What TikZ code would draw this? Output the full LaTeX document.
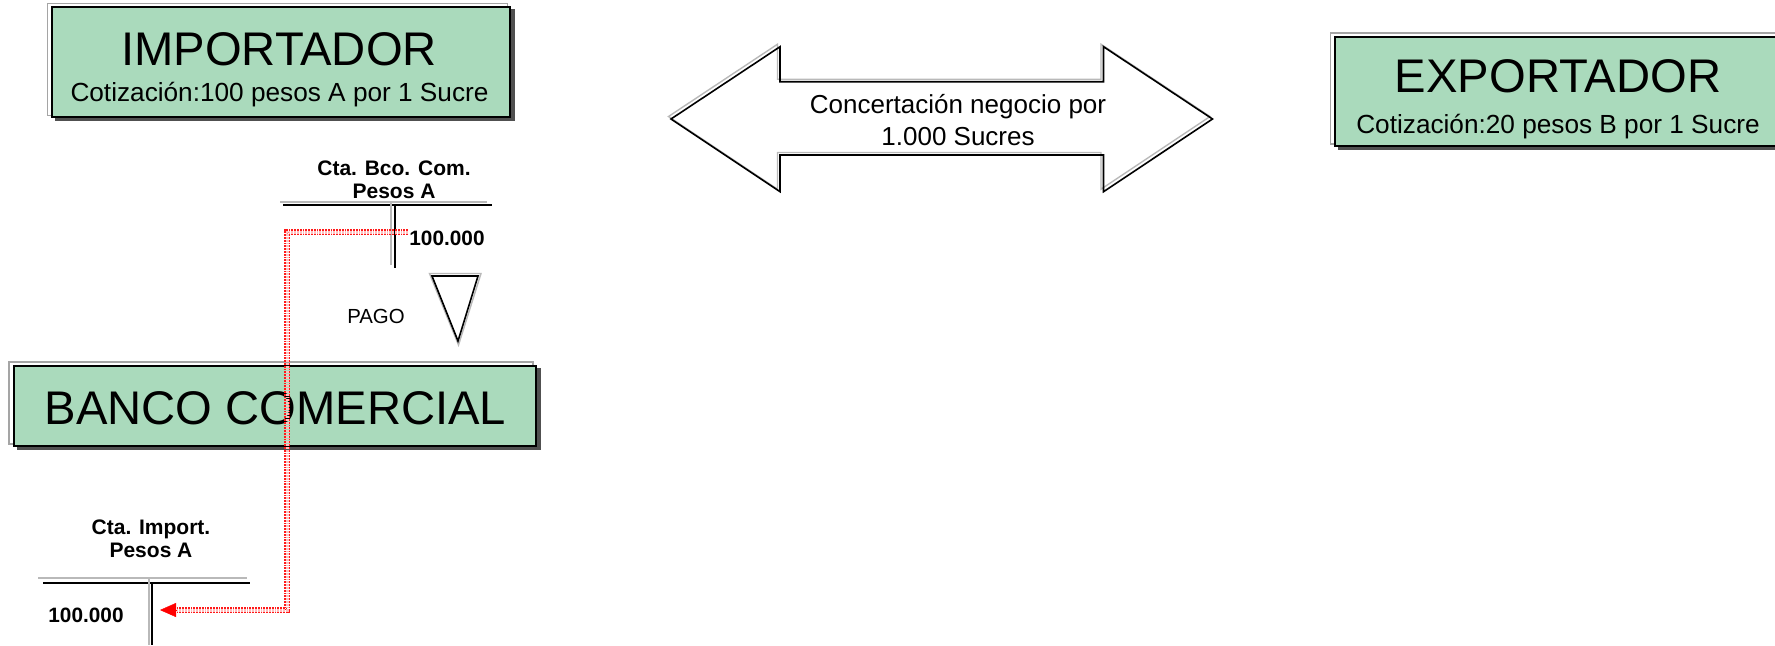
\documentclass[tikz,border=0pt]{standalone}
\usepackage{fontspec}
\setmainfont{Liberation Sans}
\usetikzlibrary{arrows.meta,backgrounds}
\definecolor{boxgreen}{RGB}{170,218,188}
\definecolor{shadowgray}{RGB}{80,80,80}
\definecolor{lightedge}{RGB}{165,165,165}
\begin{document}
\begin{tikzpicture}[x=0.5pt,y=-0.5pt,
  box/.style={rectangle, draw=black, line width=1pt, fill=boxgreen, inner sep=0pt},
  txt/.style={inner sep=0pt, anchor=base},
  title/.style={txt, font=\fontsize{23.6}{28}\selectfont},
  sub/.style={txt, font=\fontsize{13.1}{15}\selectfont},
  lbl/.style={txt, align=center, font=\bfseries\fontsize{10.5}{11.5}\selectfont},
  amt/.style={txt, font=\bfseries\fontsize{10.4}{12}\selectfont},
  litedge/.style={draw=lightedge, line width=0.8pt},
  boxshadow/.style={fill=shadowgray},
  tgray/.style={draw=gray!55, line width=0.6pt},
  tblack/.style={draw=black, line width=0.7pt},
  tstem/.style={draw=black, line width=1.4pt},
  flow/.style={draw=red!90, line width=0.8pt, double=red!25, double distance=1.5pt, dash pattern=on 0.9pt off 0.5pt},
  shapegray/.style={draw=gray!55, line width=0.7pt},
  shapeblack/.style={draw=black, line width=0.8pt},
]
\useasboundingbox (0,0) rectangle (1775,645);

% boxes
\node[box, minimum width=229pt, minimum height=55pt] (imp) at (281,62.3) {};
\node[title] (impT) at (279,65) {IMPORTADOR};
\node[sub] (impS) at (279.5,101.7) {Cotización:100 pesos A por 1 Sucre};

\node[box, minimum width=223pt, minimum height=54.5pt] (exp) at (1558,91.5) {};
\node[title] (expT) at (1558,92.7) {EXPORTADOR};
\node[sub] (expS) at (1558,133.3) {Cotización:20 pesos B por 1 Sucre};

\node[box, minimum width=261pt, minimum height=40pt] (bco) at (274.6,405.8) {};
\node[title] (bcoT) at (275.5,424) {BANCO COMERCIAL};

\begin{scope}[on background layer]
  \foreach \b in {imp,exp,bco}{
    \fill[boxshadow] ([shift={(4,3)}]\b.north west) rectangle ([shift={(4,3)}]\b.south east);
    \draw[litedge] ([shift={(-3.5,-3)}]\b.north west) rectangle ([shift={(-3.5,-3)}]\b.south east);
  }
\end{scope}

% double arrow
\draw[shapegray, shift={(-2.5,-2.5)}] (671,119) -- (780,46.7) -- (780,81.7) -- (1103.5,81.7) -- (1103.5,46.7)
  -- (1212.5,119) -- (1103.5,191.7) -- (1103.5,155) -- (780,155) -- (780,191.7) -- cycle;
\draw[shapeblack] (671,119) -- (780,46.7) -- (780,81.7) -- (1103.5,81.7) -- (1103.5,46.7)
  -- (1212.5,119) -- (1103.5,191.7) -- (1103.5,155) -- (780,155) -- (780,191.7) -- cycle;
\node[txt, align=center, font=\fontsize{13}{15.85}\selectfont] (deal) at (958,145) {Concertación negocio por\\1.000 Sucres};

% T account Bco. Com.
\node[lbl] (ctaB) at (394,198) {Cta. Bco. Com.\\Pesos A};
\draw[tgray] (280,202) -- (487,202);
\draw[tblack] (283,205) -- (492,205);
\draw[tgray] (391,202) -- (391,265);
\draw[tstem] (395,205) -- (395,268);
\node[amt] (v1) at (447,245) {100.000};

% PAGO triangle
\draw[shapegray] (429.5,273.5) -- (481,273.5) -- (458.5,345) -- cycle;
\draw[shapeblack] (432,276) -- (478,276) -- (458,341) -- cycle;
\node[txt, font=\fontsize{10.2}{12}\selectfont] (pago) at (376,323) {PAGO};

% T account Import.
\node[lbl] (ctaI) at (151,557) {Cta. Import.\\Pesos A};
\draw[tgray] (38,578) -- (247,578);
\draw[tblack] (43,583) -- (250,583);
\draw[tgray] (149,578) -- (149,645);
\draw[tstem] (152,583) -- (152,645);
\node[amt] (v2) at (86,622) {100.000};

% red flow
\coordinate (fs) at (408,232);
\coordinate (fc) at (287,610);
\coordinate (ft) at (176,610);
\coordinate (fe) at (160,610);
\draw[flow] (fs) -| (fc) -- (ft);
\draw[red, line width=0.2pt, -{Triangle[length=8pt,width=7pt]}] (ft) -- (fe);
\end{tikzpicture}
\end{document}
